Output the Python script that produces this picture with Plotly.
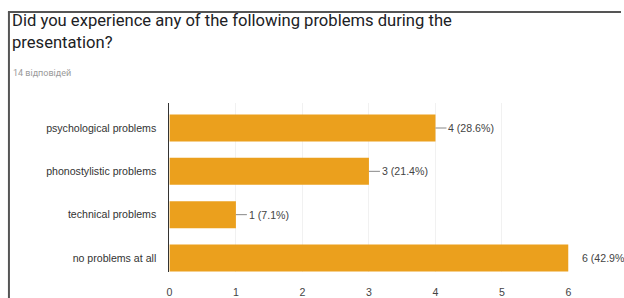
import plotly.graph_objects as go

categories = ["psychological problems", "phonostylistic problems", "technical problems", "no problems at all"]
counts = [4, 3, 1, 6]
labels = ["4 (28.6%)", "3 (21.4%)", "1 (7.1%)", "6 (42.9%"]
x_ticks = [0, 1, 2, 3, 4, 5, 6]
title_lines = ["Did you experience any of the following problems during the", "presentation?"]
subtitle = "14 відповідей"

W, H = 624, 298
BAR = "#EBA01D"
FS = 10.6

fig = go.Figure()
fig.add_trace(go.Bar(
    x=counts, y=categories, orientation="h",
    marker=dict(color=BAR, line=dict(width=0)),
    hoverinfo="skip",
))

def px(x):
    return x / W

def py(y):
    return 1 - y / H

annotations = []
for i, (c, cat, lab) in enumerate(zip(counts, categories, labels)):
    if c == max(counts):
        annotations.append(dict(x=c, y=cat, xref="x", yref="y", text=lab, showarrow=False,
                                xanchor="left", xshift=11,
                                font=dict(family="Arial", size=FS, color="#444")))
    else:
        annotations.append(dict(x=c, y=cat, xref="x", yref="y", text=lab, showarrow=True,
                                arrowhead=0, arrowwidth=1, arrowcolor="#888", ax=11, ay=0,
                                xanchor="left", standoff=0,
                                font=dict(family="Arial", size=FS, color="#444")))

annotations.append(dict(x=px(7), y=py(9), xref="paper", yref="paper", xanchor="left", yanchor="top",
                        align="left", showarrow=False, text="<br>".join(title_lines),
                        font=dict(family="Roboto", size=16.6, color="#202124")))
annotations.append(dict(x=px(8), y=py(66), xref="paper", yref="paper", xanchor="left", yanchor="top",
                        align="left", showarrow=False, text=subtitle,
                        font=dict(family="Roboto", size=9, color="#9a9a9a")))

fig.update_layout(
    width=W, height=H,
    margin=dict(l=0, r=0, t=0, b=0),
    paper_bgcolor="white", plot_bgcolor="white",
    showlegend=False,
    bargap=0.377,
    annotations=annotations,
    shapes=[
        dict(type="line", xref="paper", yref="paper", x0=px(5), x1=1, y0=py(12), y1=py(12),
             line=dict(color="#555", width=2)),
        dict(type="line", xref="paper", yref="paper", x0=px(6), x1=px(6), y0=py(12), y1=0,
             line=dict(color="#555", width=2)),
    ],
    xaxis=dict(
        domain=[px(168), px(571)], range=[0, 6], tickvals=x_ticks,
        showgrid=True, gridcolor="#f1f1f1", zeroline=False, showline=False,
        ticks="outside", ticklen=10, tickcolor="rgba(0,0,0,0)",
        tickfont=dict(family="Arial", size=FS, color="#444"),
    ),
    yaxis=dict(
        domain=[py(272), py(103)], autorange=False, range=[3.323, -0.577],
        type="category", showgrid=False, zeroline=False,
        showline=True, linecolor="#333", linewidth=1,
        ticks="", ticklabelstandoff=10,
        tickfont=dict(family="Arial", size=FS, color="#333"),
    ),
)

fig.write_html("out.html", config={"displayModeBar": False},
               post_script="document.body.style.margin='0';document.body.style.overflow='hidden';")
